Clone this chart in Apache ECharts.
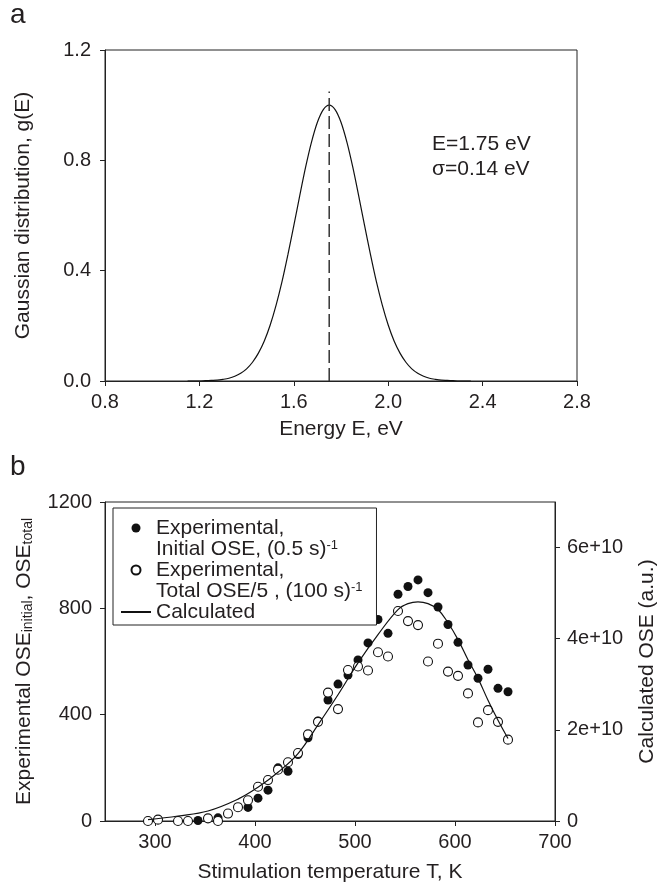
<!DOCTYPE html>
<html><head><meta charset="utf-8">
<script src="https://cdn.jsdelivr.net/npm/echarts@6/dist/echarts.min.js"></script>
<style>html,body{margin:0;padding:0;background:#fff}#c{width:666px;height:884px}</style>
</head><body><div id="c"></div>
<script>
// ---- Panel a: Gaussian distribution ----
const energy = [1.15,1.175,1.2,1.225,1.25,1.275,1.3,1.325,1.35,1.375,1.4,1.425,1.45,1.475,1.5,1.525,1.55,1.575,1.6,1.625,1.65,1.675,1.7,1.725,1.75,1.775,1.8,1.825,1.85,1.875,1.9,1.925,1.95,1.975,2.0,2.025,2.05,2.075,2.1,2.125,2.15,2.175,2.2,2.225,2.25,2.275,2.3,2.325,2.35];
const gauss = [0.000,0.000,0.000,0.001,0.002,0.003,0.006,0.010,0.017,0.028,0.044,0.068,0.101,0.145,0.203,0.275,0.360,0.458,0.563,0.671,0.775,0.866,0.938,0.984,1.000,0.984,0.938,0.866,0.775,0.671,0.563,0.458,0.360,0.275,0.203,0.145,0.101,0.068,0.044,0.028,0.017,0.010,0.006,0.003,0.002,0.001,0.000,0.000,0.000];
const peakLineE = [1.75, 1.75];
const peakLineG = [0, 1.05];
const energyTicks = [0.8, 1.2, 1.6, 2.0, 2.4, 2.8];
const gaussTicks = [0, 0.4, 0.8, 1.2];

// ---- Panel b: OSE vs stimulation temperature ----
const tempInitial = [343,363,393,403,413,423,433,443,453,463,473,483,493,503,513,523,533,543,553,563,573,583,593,603,613,623,633,643,653];
const oseInitial = [2,12,51,86,116,200,187,250,313,376,455,515,549,606,670,758,706,853,882,907,859,805,739,672,587,537,571,499,486];
const tempTotal = [293,303,323,333,353,363,373,383,393,403,413,423,433,443,453,463,473,483,493,503,513,523,533,543,553,563,573,583,593,603,613,623,633,643,653];
const oseTotal = [0,5,0,0,10,0,28,52,78,129,154,193,221,256,326,373,483,421,568,581,566,635,619,790,752,737,600,667,562,546,480,371,417,373,306];
const tempCalc = [293,323,353,383,403,423,443,463,483,503,523,543,553,563,573,583,593,603,613,623,633,643,653];
const oseCalc = [0.03e10,0.11e10,0.22e10,0.48e10,0.74e10,1.07e10,1.48e10,2.11e10,2.77e10,3.47e10,4.09e10,4.64e10,4.77e10,4.81e10,4.77e10,4.64e10,4.35e10,3.98e10,3.54e10,3.13e10,2.65e10,2.21e10,1.81e10];
const tempTicks = [300, 400, 500, 600, 700];
const oseTicks = [0, 400, 800, 1200];
const calcTicks = [0, 2e10, 4e10, 6e10];

const seriesNames = ['Experimental, Initial OSE', 'Experimental, Total OSE/5', 'Calculated'];
const legendLabels = {
  'Experimental, Initial OSE': 'Experimental,\nInitial OSE, (0.5 s){sup|-1}',
  'Experimental, Total OSE/5': 'Experimental,\nTotal OSE/5 , (100 s){sup|-1}',
  'Calculated': 'Calculated'
};

const FONT = "'Liberation Sans', Arial, Helvetica, sans-serif";
const INK = '#231f20';
const AX = '#222';

function valueAxis(o) {
  return Object.assign({
    type: 'value',
    axisLine: {show: true, onZero: false, lineStyle: {color: AX, width: 1}},
    splitLine: {show: false},
    nameLocation: 'middle',
    nameTextStyle: {fontSize: 21, color: INK, fontFamily: FONT}
  }, o);
}
function ticks(vals) {
  return {show: true, inside: false, length: 5, customValues: vals, lineStyle: {color: AX, width: 1}};
}
function labels(vals, fmt, margin) {
  return {customValues: vals, formatter: fmt, fontSize: 20, color: INK, fontFamily: FONT, margin: margin};
}

const chart = echarts.init(document.getElementById('c'), null, {renderer: 'canvas'});
chart.setOption({
  animation: false,
  backgroundColor: '#fff',
  title: [
    {text: 'a', left: 10, top: 1, padding: 0, textStyle: {fontSize: 28, fontWeight: 'normal', color: INK, fontFamily: FONT, lineHeight: 28}},
    {text: 'b', left: 10, top: 453, padding: 0, textStyle: {fontSize: 28, fontWeight: 'normal', color: INK, fontFamily: FONT, lineHeight: 28}},
    {text: 'E=1.75 eV\nσ=0.14 eV', left: 432, top: 132, padding: 0, textStyle: {fontSize: 21, fontWeight: 'normal', color: INK, fontFamily: FONT, lineHeight: 25}}
  ],
  grid: [
    {left: 105, top: 50, width: 472, height: 331, show: true, borderColor: AX, borderWidth: 1, backgroundColor: 'transparent'},
    {left: 105, top: 502, width: 459, height: 320, show: true, borderColor: AX, borderWidth: 1, backgroundColor: 'transparent'}
  ],
  xAxis: [
    valueAxis({gridIndex: 0, min: 0.8, max: 2.8,
      axisTick: ticks(energyTicks),
      axisLabel: labels(energyTicks, v => v.toFixed(1), 11),
      name: 'Energy E, eV', nameGap: 38}),
    valueAxis({gridIndex: 1, min: 250, max: 700,
      axisTick: ticks(tempTicks),
      axisLabel: labels(tempTicks, v => String(v), 11),
      name: 'Stimulation temperature T, K', nameGap: 41})
  ],
  yAxis: [
    valueAxis({gridIndex: 0, min: 0, max: 1.2,
      axisTick: ticks(gaussTicks),
      axisLabel: labels(gaussTicks, v => v.toFixed(1), 14),
      name: 'Gaussian distribution, g(E)', nameGap: 71}),
    valueAxis({gridIndex: 1, min: 0, max: 1200, position: 'left',
      axisTick: ticks(oseTicks),
      axisLabel: labels(oseTicks, v => String(v), 13),
      name: 'Experimental OSE{sub|initial}, OSE{sub|total}', nameGap: 70,
      nameTextStyle: {fontSize: 21, lineHeight: 21, color: INK, fontFamily: FONT,
        rich: {sub: {fontSize: 14, lineHeight: 14, verticalAlign: 'bottom', color: INK, fontFamily: FONT}}}}),
    valueAxis({gridIndex: 1, min: 0, max: 7e10, position: 'right',
      axisTick: ticks(calcTicks),
      axisLabel: labels(calcTicks, v => v === 0 ? '0' : (v / 1e10) + 'e+10', 12),
      name: 'Calculated OSE (a.u.)', nameRotate: 90, nameGap: 82})
  ],
  legend: {
    orient: 'vertical', left: 113, top: 508,
    padding: [-11.5, 14, -18.5, 7], itemGap: -21,
    itemWidth: 30, itemHeight: 9,
    borderColor: AX, borderWidth: 1, backgroundColor: '#fff',
    textStyle: {fontSize: 21, lineHeight: 21, color: INK, fontFamily: FONT,
      rich: {sup: {fontSize: 13, lineHeight: 12, verticalAlign: 'top', color: INK, fontFamily: FONT}}},
    formatter: name => legendLabels[name],
    data: [
      {name: seriesNames[0], textStyle: {padding: [21, 0, 0, 0]}},
      {name: seriesNames[1], textStyle: {padding: [21, 0, 0, 0]}},
      {name: seriesNames[2], itemStyle: {opacity: 0}, textStyle: {padding: [21, 0, 21, 0]}}
    ]
  },
  series: [
    {type: 'line', xAxisIndex: 0, yAxisIndex: 0, data: energy.map((e, i) => [e, gauss[i]]),
      symbol: 'none', smooth: 0.3, lineStyle: {color: '#111', width: 1.2}, silent: true},
    {type: 'line', xAxisIndex: 0, yAxisIndex: 0, data: peakLineE.map((e, i) => [e, peakLineG[i]]),
      symbol: 'none', lineStyle: {color: '#333', width: 1.5, type: [13, 5]}, silent: true},
    {name: seriesNames[0], type: 'scatter', xAxisIndex: 1, yAxisIndex: 1,
      data: tempInitial.map((t, i) => [t, oseInitial[i]]), symbol: 'circle', symbolSize: 9,
      itemStyle: {color: '#111', opacity: 1}},
    {name: seriesNames[1], type: 'scatter', xAxisIndex: 1, yAxisIndex: 1,
      data: tempTotal.map((t, i) => [t, oseTotal[i]]), symbol: 'circle', symbolSize: 9,
      itemStyle: {color: '#fff', borderColor: '#111', borderWidth: 1.1, opacity: 1}},
    {name: seriesNames[2], type: 'line', xAxisIndex: 1, yAxisIndex: 2,
      data: tempCalc.map((t, i) => [t, oseCalc[i]]), symbol: 'none', showSymbol: false, smooth: 0.4,
      lineStyle: {color: '#111', width: 1.2}, itemStyle: {color: '#111'}}
  ]
});
</script></body></html>
